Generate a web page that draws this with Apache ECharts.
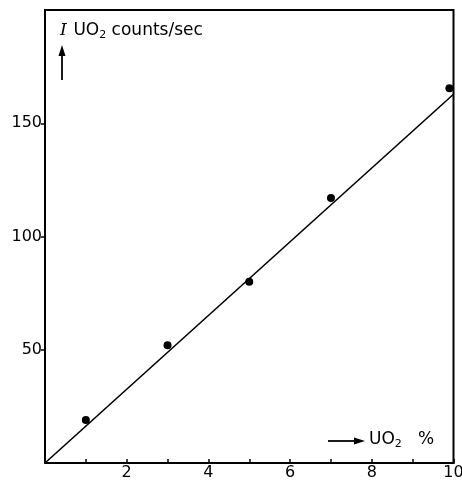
<!DOCTYPE html>
<html><head><meta charset="utf-8">
<script src="https://cdn.jsdelivr.net/npm/echarts@6/dist/echarts.min.js"></script>
<style>html,body{margin:0;padding:0;background:#fff}#c{width:462px;height:481px}</style>
</head><body><div id="c"></div>
<script>
// Data
const uo2Percent = [1, 3, 5, 7, 9.9];
const countsPerSec = [19, 52, 80, 117, 165.5];
const fitX = [0, 10];
const fitY = [0, 162.8];
const xTickLabels = [2, 4, 6, 8, 10];
const yTickLabels = [50, 100, 150];

const chart = echarts.init(document.getElementById('c'));
const font = 'DejaVu Sans';
chart.setOption({
  animation: false,
  backgroundColor: '#fff',
  grid: {left: 45, right: 8.5, top: 10, bottom: 18, show: true, borderColor: '#000', borderWidth: 2,
         backgroundColor: 'transparent', containLabel: false, outerBoundsMode: 'none'},
  xAxis: {
    type: 'value', min: 0, max: 10, interval: 1,
    axisLine: {show: true, lineStyle: {color: '#000', width: 2}},
    axisTick: {show: true, inside: true, length: 4, lineStyle: {color: '#000', width: 1.5}},
    axisLabel: {
      color: '#000', fontFamily: font, fontSize: 16, margin: 2,
      formatter: v => xTickLabels.includes(v) ? String(v) : ''
    },
    splitLine: {show: false}
  },
  yAxis: {
    type: 'value', min: 0, max: 200, interval: 50,
    axisLine: {show: true, lineStyle: {color: '#000', width: 2}},
    axisTick: {show: true, length: 4, customValues: yTickLabels, lineStyle: {color: '#000', width: 1.5}},
    axisLabel: {
      color: '#000', fontFamily: font, fontSize: 16, margin: 3,
      formatter: v => yTickLabels.includes(v) ? String(v) : ''
    },
    splitLine: {show: false}
  },
  series: [
    {type: 'line', data: fitX.map((x, i) => [x, fitY[i]]), symbol: 'none', lineStyle: {color: '#000', width: 1.6}},
    {type: 'scatter', data: uo2Percent.map((x, i) => [x, countsPerSec[i]]), symbol: 'circle', symbolSize: 8, itemStyle: {color: '#000', opacity: 1}}
  ],
  graphic: [
    {type: 'text', left: 60, top: 22, style: {
      text: '{i|I}  {t|UO}{s|2}{t| counts/sec}',
      rich: {
        i: {fontFamily: 'DejaVu Serif', fontStyle: 'italic', fontSize: 17, fill: '#000'},
        t: {fontFamily: font, fontSize: 17, fill: '#000'},
        s: {fontFamily: font, fontSize: 11, fill: '#000', padding: [9, 0, 0, 0]}
      }
    }},
    {type: 'line', shape: {x1: 62, y1: 80, x2: 62, y2: 54}, style: {stroke: '#000', lineWidth: 1.8}},
    {type: 'polygon', shape: {points: [[58.5, 56], [65.5, 56], [62, 45]]}, style: {fill: '#000'}},
    {type: 'line', shape: {x1: 328, y1: 441, x2: 356, y2: 441}, style: {stroke: '#000', lineWidth: 1.8}},
    {type: 'polygon', shape: {points: [[354, 437.5], [354, 444.5], [365, 441]]}, style: {fill: '#000'}},
    {type: 'text', left: 369, top: 431, style: {
      text: '{t|UO}{s|2}{t|   %}',
      rich: {
        t: {fontFamily: font, fontSize: 17, fill: '#000'},
        s: {fontFamily: font, fontSize: 11, fill: '#000', padding: [9, 0, 0, 0]}
      }
    }}
  ]
});
</script></body></html>
